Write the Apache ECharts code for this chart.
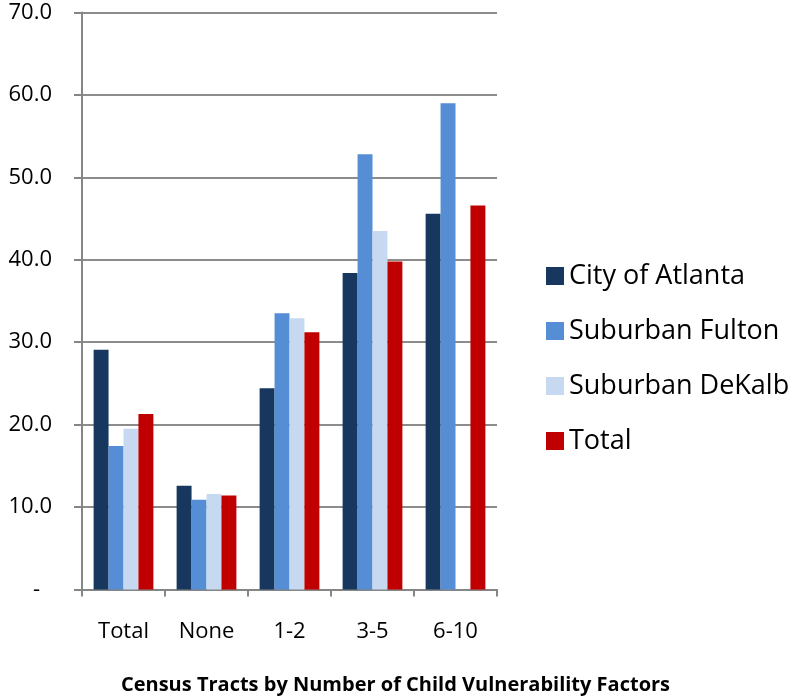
<!DOCTYPE html>
<html>
<head>
<meta charset="utf-8">
<script src="https://cdn.jsdelivr.net/npm/echarts@6/dist/echarts.min.js"></script>
<style>html,body{margin:0;padding:0;background:#fff;}#c{width:791px;height:697px;}</style>
</head>
<body>
<div id="c"></div>
<script>
const categories = ['Total', 'None', '1-2', '3-5', '6-10'];
const cityOfAtlanta = [29.1, 12.6, 24.4, 38.4, 45.6];
const suburbanFulton = [17.4, 10.9, 33.5, 52.8, 59.0];
const suburbanDeKalb = [19.5, 11.6, 32.9, 43.5, null];
const totalValues = [21.3, 11.4, 31.2, 39.8, 46.6];
const seriesNames = ['City of Atlanta', 'Suburban Fulton', 'Suburban DeKalb', 'Total'];
const xTitle = 'Census Tracts by Number of Child Vulnerability Factors';

const colors = ['#17375E', '#558ED5', '#C6D9F1', '#C00000'];
const font = '"Open Sans", sans-serif';
const chart = echarts.init(document.getElementById('c'));
const mk = (name, data, i) => ({
  name, type: 'bar', data,
  itemStyle: { color: colors[i] },
  barGap: '0%', barCategoryGap: '28%'
});
chart.setOption({
  animation: false,
  color: colors,
  title: {
    text: xTitle, left: 'center', top: 670,
    textStyle: { fontFamily: font, fontWeight: 'bold', fontSize: 20, color: '#000' }
  },
  legend: {
    orient: 'vertical', left: 541, top: 256,
    itemWidth: 18, itemHeight: 18, itemGap: 25,
    icon: 'rect',
    textStyle: { fontFamily: font, fontSize: 27, color: '#000', lineHeight: 30 },
    data: seriesNames
  },
  grid: { left: 82, right: 294, top: 12.5, bottom: 107.5, containLabel: false },
  xAxis: {
    type: 'category', data: categories,
    axisLine: { lineStyle: { color: '#868686', width: 2 } },
    axisTick: { show: true, length: 7, lineStyle: { color: '#868686', width: 2 } },
    axisLabel: { fontFamily: font, fontSize: 22, color: '#000', margin: 31 }
  },
  yAxis: {
    type: 'value', min: 0, max: 70, interval: 10,
    axisLine: { show: true, lineStyle: { color: '#868686', width: 2 } },
    axisTick: { show: true, length: 8, lineStyle: { color: '#868686', width: 2 } },
    splitLine: { lineStyle: { color: '#8c8c8c', width: 2 } },
    axisLabel: {
      fontFamily: font, fontSize: 22, color: '#000', margin: 30,
      formatter: v => v === 0 ? '{d|-}' : v.toFixed(1),
      rich: { d: { fontFamily: font, fontSize: 22, color: '#000', padding: [0, 12, 0, 0] } }
    }
  },
  series: [
    mk(seriesNames[0], cityOfAtlanta, 0),
    mk(seriesNames[1], suburbanFulton, 1),
    mk(seriesNames[2], suburbanDeKalb, 2),
    mk(seriesNames[3], totalValues, 3)
  ]
});
</script>
</body>
</html>
